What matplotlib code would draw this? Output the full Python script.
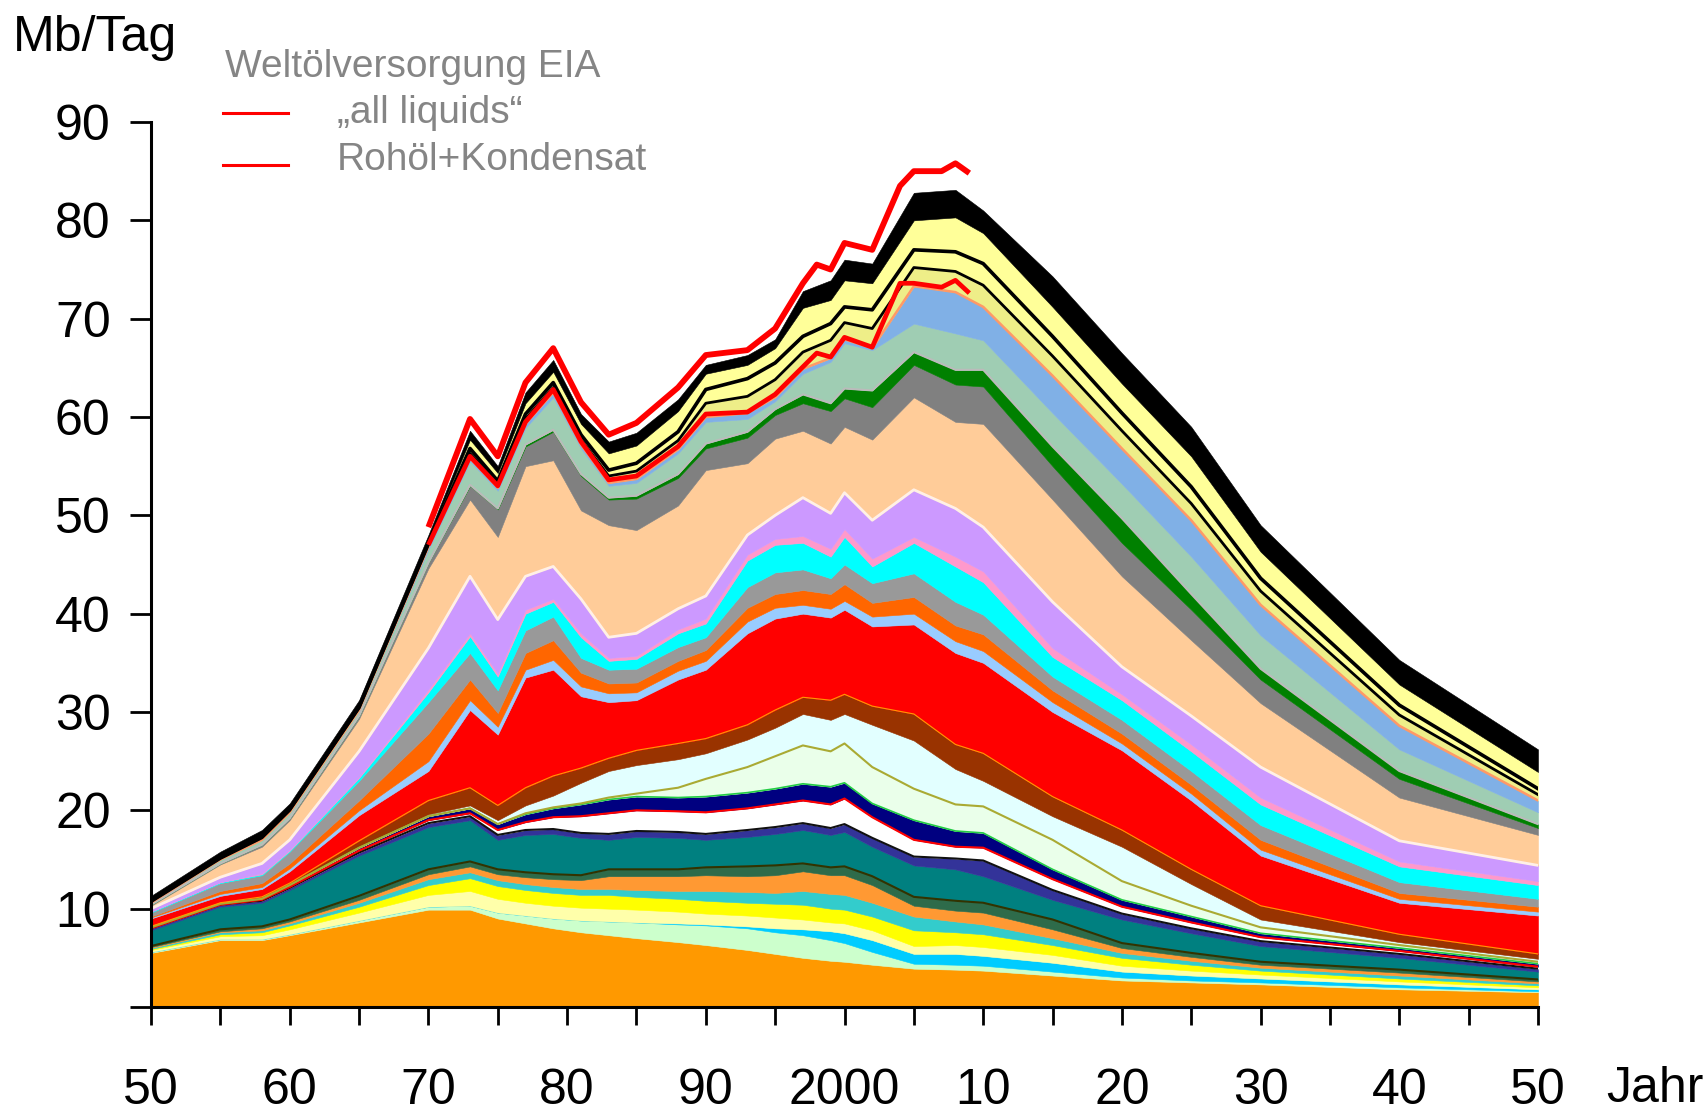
import numpy as np
import matplotlib
matplotlib.use('Agg')
import matplotlib.pyplot as plt
from matplotlib.lines import Line2D

plt.rcParams['font.family'] = ['Liberation Sans', 'DejaVu Sans']

# Stützjahre der Schichten
years = [1950, 1955, 1958, 1960, 1965, 1970, 1973, 1975, 1977, 1979, 1981, 1983, 1985, 1988, 1990,
         1993, 1995, 1997, 1999, 2000, 2002, 2005, 2008, 2010, 2015, 2020, 2025, 2030, 2040, 2050]

# Oberkante jeder Schicht in Mb/Tag (kumuliert), von unten nach oben
lvl_orange = [5.5, 6.8, 6.8, 7.3, 8.6, 9.9, 9.9, 9.0, 8.5, 8.0, 7.6, 7.3, 7.0, 6.6, 6.3,
              5.8, 5.4, 5.0, 4.7, 4.6, 4.3, 3.9, 3.8, 3.7, 3.2, 2.7, 2.5, 2.3, 1.8, 1.5]
lvl_lgreen = [5.6, 6.9, 6.9, 7.4, 8.8, 10.2, 10.3, 9.6, 9.3, 9.0, 8.8, 8.7, 8.6, 8.4, 8.3,
              8.0, 7.6, 7.3, 6.8, 6.5, 5.6, 4.4, 4.3, 4.2, 3.6, 3.0, 2.7, 2.5, 2.0, 1.6]
lvl_sky = [5.6, 6.9, 6.9, 7.4, 8.8, 10.2, 10.3, 9.6, 9.3, 9.0, 8.8, 8.7, 8.6, 8.5, 8.4,
           8.2, 8.0, 7.9, 7.7, 7.5, 6.8, 5.4, 5.4, 5.2, 4.5, 3.6, 3.2, 2.9, 2.3, 1.8]
lvl_ltyel = [5.8, 7.2, 7.3, 7.9, 9.6, 11.4, 11.8, 11.0, 10.6, 10.3, 10.1, 10.0, 9.9, 9.7, 9.5,
             9.3, 9.1, 8.9, 8.6, 8.5, 7.8, 6.2, 6.3, 6.1, 5.3, 4.2, 3.7, 3.3, 2.6, 2.0]
lvl_yellow = [5.9, 7.4, 7.6, 8.3, 10.2, 12.4, 13.1, 12.3, 11.9, 11.6, 11.4, 11.4, 11.2, 11.0, 10.8,
              10.6, 10.5, 10.4, 10.0, 9.9, 9.2, 7.8, 7.6, 7.4, 6.3, 5.0, 4.3, 3.7, 2.9, 2.2]
lvl_turq = [6.0, 7.6, 7.8, 8.5, 10.6, 13.0, 13.7, 12.9, 12.5, 12.2, 12.0, 12.0, 11.9, 11.8, 11.8,
            11.7, 11.6, 11.8, 11.5, 11.4, 10.6, 9.2, 8.7, 8.4, 7.0, 5.5, 4.7, 4.0, 3.2, 2.4]
lvl_orng = [6.1, 7.7, 8.0, 8.7, 10.9, 13.5, 14.3, 13.5, 13.2, 13.0, 12.9, 13.3, 13.3, 13.3, 13.4,
            13.3, 13.4, 13.8, 13.4, 13.4, 12.4, 10.3, 9.8, 9.6, 7.9, 6.0, 5.1, 4.3, 3.5, 2.6]
lvl_olive = [6.2, 7.9, 8.2, 8.9, 11.3, 14.0, 14.8, 14.0, 13.7, 13.5, 13.4, 14.0, 14.0, 14.0, 14.2,
             14.3, 14.4, 14.6, 14.2, 14.3, 13.3, 11.2, 10.8, 10.6, 8.9, 6.5, 5.5, 4.6, 3.8, 2.8]
lvl_teal = [7.8, 10.2, 10.6, 11.9, 15.4, 18.3, 19.0, 17.0, 17.5, 17.6, 17.2, 17.0, 17.3, 17.2, 17.0,
            17.3, 17.6, 18.0, 17.5, 17.8, 16.3, 14.4, 14.0, 13.3, 10.9, 8.9, 7.5, 6.2, 5.0, 3.6]
lvl_slate = [8.0, 10.4, 10.8, 12.1, 15.7, 18.7, 19.4, 17.5, 18.0, 18.1, 17.7, 17.6, 17.9, 17.8, 17.6,
             18.0, 18.3, 18.7, 18.2, 18.6, 17.2, 15.3, 15.1, 14.9, 11.9, 9.5, 8.0, 6.7, 5.4, 3.9]
lvl_white = [8.0, 10.4, 10.9, 12.2, 15.9, 19.0, 19.7, 18.0, 18.8, 19.3, 19.4, 19.7, 20.0, 19.9, 19.8,
             20.2, 20.6, 21.0, 20.6, 21.2, 19.3, 17.0, 16.3, 16.2, 13.0, 10.2, 8.6, 7.1, 5.7, 4.1]
lvl_navy = [8.1, 10.5, 11.0, 12.4, 16.2, 19.4, 20.2, 18.6, 19.6, 20.2, 20.6, 21.1, 21.4, 21.3, 21.4,
            21.8, 22.2, 22.7, 22.4, 22.8, 20.7, 19.0, 17.9, 17.7, 14.0, 10.9, 9.2, 7.5, 6.0, 4.4]
lvl_honeydew = [8.1, 10.5, 11.0, 12.4, 16.2, 19.4, 20.2, 18.6, 19.7, 20.3, 20.7, 21.3, 21.7, 22.3, 23.2,
                24.4, 25.5, 26.6, 26.0, 26.8, 24.4, 22.2, 20.6, 20.4, 17.0, 12.8, 10.3, 8.1, 6.3, 4.6]
lvl_lcyan = [8.1, 10.5, 11.0, 12.4, 16.3, 19.6, 20.5, 19.0, 20.5, 21.5, 22.8, 24.0, 24.6, 25.2, 25.8,
             27.2, 28.4, 29.8, 29.2, 29.8, 28.7, 27.1, 24.2, 23.0, 19.4, 16.3, 12.5, 8.9, 6.6, 4.9]
lvl_brown = [8.2, 10.6, 11.2, 12.6, 16.9, 21.0, 22.3, 20.5, 22.3, 23.5, 24.3, 25.3, 26.1, 26.8, 27.3,
             28.7, 30.2, 31.5, 31.2, 31.8, 30.6, 29.8, 26.7, 25.8, 21.4, 18.0, 14.0, 10.3, 7.4, 5.4]
lvl_red = [9.0, 11.3, 12.0, 13.8, 19.5, 24.0, 30.2, 27.7, 33.5, 34.3, 31.6, 31.0, 31.2, 33.3, 34.3,
           38.0, 39.5, 40.0, 39.6, 40.4, 38.7, 38.9, 36.0, 35.0, 30.0, 26.1, 21.0, 15.4, 10.6, 9.3]
lvl_lblue = [9.1, 11.5, 12.2, 14.1, 20.0, 25.0, 31.2, 28.5, 34.3, 35.3, 32.6, 31.9, 32.0, 34.2, 35.2,
             39.2, 40.6, 40.9, 40.5, 41.3, 39.7, 40.0, 37.2, 36.2, 31.0, 26.8, 21.7, 16.0, 11.0, 9.7]
lvl_orred = [9.2, 11.8, 12.6, 14.6, 21.0, 27.8, 33.3, 29.9, 36.0, 37.3, 34.0, 32.9, 33.0, 35.2, 36.3,
             40.6, 42.0, 42.4, 42.0, 43.0, 41.1, 41.7, 38.8, 37.9, 32.2, 27.8, 22.6, 17.0, 11.6, 10.2]
lvl_gray = [9.6, 12.6, 13.4, 15.8, 23.0, 31.0, 36.0, 32.2, 38.3, 39.7, 35.5, 34.3, 34.4, 36.6, 37.6,
            42.7, 44.2, 44.5, 43.6, 45.0, 43.1, 44.1, 41.2, 39.9, 33.6, 29.2, 24.0, 18.5, 12.7, 11.0]
lvl_cyan = [9.7, 12.7, 13.5, 15.9, 23.3, 32.0, 37.7, 33.6, 40.0, 41.2, 37.6, 35.2, 35.4, 38.0, 39.0,
            45.4, 47.0, 47.2, 45.8, 47.8, 44.8, 47.2, 44.8, 43.2, 35.6, 31.2, 26.0, 20.6, 14.3, 12.4]
lvl_pink = [9.7, 12.7, 13.6, 16.0, 23.4, 32.3, 38.0, 33.9, 40.4, 41.5, 38.0, 35.5, 35.7, 38.4, 39.5,
            46.0, 47.6, 47.9, 46.6, 48.6, 45.6, 47.8, 45.8, 44.3, 36.5, 31.8, 26.7, 21.3, 14.8, 12.8]
lvl_purple = [10.0, 13.2, 14.6, 17.0, 26.0, 36.5, 43.8, 39.4, 43.8, 44.8, 41.5, 37.6, 38.0, 40.5, 41.8,
              48.0, 50.0, 51.8, 50.2, 52.3, 49.5, 52.6, 50.7, 48.8, 41.2, 34.6, 29.6, 24.4, 16.9, 14.4]
lvl_peach = [10.3, 14.5, 16.3, 19.0, 29.3, 44.6, 51.6, 47.8, 55.0, 55.6, 50.5, 49.0, 48.5, 51.0, 54.6,
             55.3, 57.8, 58.6, 57.3, 59.0, 57.7, 62.0, 59.5, 59.3, 51.6, 43.8, 37.3, 30.9, 21.3, 17.5]
lvl_gray2 = [10.4, 14.6, 16.5, 19.2, 29.6, 45.2, 53.0, 50.6, 57.0, 58.5, 54.0, 51.6, 51.7, 53.8, 56.8,
             57.9, 60.2, 61.4, 60.6, 61.9, 61.0, 65.3, 63.3, 63.1, 55.0, 47.2, 40.4, 33.3, 23.2, 18.2]
lvl_green = [10.4, 14.6, 16.5, 19.2, 29.6, 45.2, 53.1, 50.7, 57.2, 58.7, 54.2, 51.8, 52.0, 54.2, 57.3,
             58.5, 60.8, 62.3, 61.4, 62.9, 62.7, 66.6, 64.8, 64.8, 57.0, 49.7, 42.0, 34.4, 24.0, 18.6]
lvl_mint = [10.6, 15.0, 17.0, 19.8, 30.2, 46.5, 55.5, 52.5, 58.9, 62.0, 56.8, 53.0, 53.3, 56.3, 59.5,
            59.8, 61.6, 64.4, 65.6, 67.5, 66.8, 69.5, 68.5, 67.8, 60.4, 53.2, 45.8, 37.8, 26.2, 19.8]
lvl_steel = [10.6, 15.0, 17.0, 19.8, 30.2, 46.8, 55.8, 52.8, 59.3, 62.5, 57.2, 53.3, 53.7, 56.7, 60.0,
             60.4, 62.0, 64.9, 66.0, 67.9, 67.0, 73.3, 72.7, 71.2, 64.2, 56.8, 49.5, 40.9, 28.6, 21.0]
lvl_midline = [10.7, 15.1, 17.2, 20.0, 30.4, 47.0, 56.3, 53.2, 59.8, 63.0, 57.7, 54.0, 54.5, 57.6, 61.4,
               62.1, 63.8, 66.6, 67.8, 69.6, 69.0, 75.2, 74.8, 73.4, 66.2, 58.6, 51.2, 42.3, 29.7, 21.6]
lvl_lines = [10.8, 15.2, 17.3, 20.1, 30.5, 47.2, 56.8, 53.5, 60.3, 63.5, 58.2, 54.6, 55.3, 58.5, 62.8,
             63.9, 65.5, 68.2, 69.5, 71.2, 70.9, 77.0, 76.8, 75.6, 68.2, 60.4, 52.9, 43.6, 30.7, 22.2]
lvl_yellow2 = [10.9, 15.4, 17.5, 20.3, 30.7, 47.6, 57.7, 54.3, 61.4, 64.6, 59.3, 56.3, 57.1, 60.6, 64.4,
               65.3, 67.0, 71.1, 71.9, 73.9, 73.6, 80.0, 80.3, 78.7, 71.2, 63.4, 56.0, 46.3, 32.8, 23.9]
lvl_top = [11.3, 15.8, 18.0, 20.7, 31.2, 48.0, 58.6, 55.0, 62.5, 65.8, 60.3, 57.5, 58.4, 61.8, 65.3,
           66.3, 67.9, 72.8, 73.9, 76.0, 75.6, 82.8, 83.1, 81.0, 74.3, 66.5, 59.0, 49.0, 35.3, 26.2]

# EIA Weltölversorgung (Linien)
eia_years = [1970, 1973, 1975, 1977, 1979, 1981, 1983, 1985, 1988, 1990, 1993, 1995, 1997, 1998,
             1999, 2000, 2002, 2004, 2005, 2007, 2008, 2009]
all_liquids = [48.8, 59.8, 56.0, 63.5, 67.0, 61.5, 58.2, 59.4, 63.0, 66.3, 66.8, 69.0, 73.6, 75.5,
               75.0, 77.7, 77.0, 83.5, 85.0, 85.0, 85.8, 84.8]
crude_cond = [47.0, 56.0, 53.0, 59.5, 62.8, 57.5, 53.6, 54.0, 57.0, 60.3, 60.5, 62.3, 65.1, 66.5,
              66.1, 68.1, 67.1, 73.6, 73.6, 73.2, 73.9, 72.6]

x_ticks = list(range(1950, 2051, 5))
x_labels = ['50', '', '60', '', '70', '', '80', '', '90', '', '2000', '', '10', '', '20', '',
            '30', '', '40', '', '50']
y_ticks = list(range(0, 91, 10))
y_labels = [''] + [str(v) for v in range(10, 91, 10)]

layers = [
    (lvl_orange, '#ff9900'), (lvl_lgreen, '#ccffcc'), (lvl_sky, '#00ccff'),
    (lvl_ltyel, '#ffffaa'), (lvl_yellow, '#ffff00'), (lvl_turq, '#33cccc'),
    (lvl_orng, '#ff9933'), (lvl_olive, '#2e6b4a'), (lvl_teal, '#008080'),
    (lvl_slate, '#333399'), (lvl_white, '#ffffff'), (lvl_navy, '#000080'),
    (lvl_honeydew, '#eaffea'), (lvl_lcyan, '#e2ffff'), (lvl_brown, '#993300'),
    (lvl_red, '#ff0000'), (lvl_lblue, '#99ccff'), (lvl_orred, '#ff6600'),
    (lvl_gray, '#999999'), (lvl_cyan, '#00ffff'), (lvl_pink, '#ff99cc'),
    (lvl_purple, '#cc99ff'), (lvl_peach, '#ffcc99'), (lvl_gray2, '#808080'),
    (lvl_green, '#008000'), (lvl_mint, '#9fcdb3'), (lvl_steel, '#80b0e6'),
    (lvl_midline, '#eeee88'), (lvl_lines, '#ffff99'), (lvl_yellow2, '#ffff99'),
    (lvl_top, '#000000'),
]

fig = plt.figure(figsize=(17.07, 11.14), dpi=100)
ax = fig.add_axes([151 / 1707, 1 - 1007 / 1114, (1538 - 151) / 1707, (1007 - 122) / 1114])

lower = np.zeros(len(years))
for lvl, col in layers:
    upper = np.array(lvl)
    ax.fill_between(years, lower, upper, facecolor=col, edgecolor=col, linewidth=0.4)
    lower = upper

# feine Trennlinien zwischen einzelnen Schichten
ax.plot(years, lvl_olive, color='#333300', lw=1.5)
ax.plot(years, lvl_slate, color='#111111', lw=1.5)
ax.plot(years, lvl_white, color='#ff0000', lw=1.5)
ax.plot(years, lvl_navy, color='#22cc44', lw=1.2)
ax.plot(years, lvl_honeydew, color='#aaaa33', lw=1.5)
ax.plot(years, lvl_brown, color='#ff9900', lw=0.8)
ax.plot(years, lvl_purple, color='#fff0e6', lw=2)
ax.plot(years, lvl_green, color='#bbbbbb', lw=1.5)
ax.plot(years, lvl_steel, color='#ff9966', lw=1.8)
ax.plot(years, lvl_midline, color='#000000', lw=2.0)
ax.plot(years, lvl_lines, color='#000000', lw=2.6)

ax.plot(eia_years, all_liquids, color='#ff0000', lw=4.2, solid_capstyle='butt')
ax.plot(eia_years, crude_cond, color='#ff0000', lw=3.4, solid_capstyle='butt')

ax.set_xlim(1950, 2050)
ax.set_ylim(0, 90)
for side in ['top', 'right']:
    ax.spines[side].set_visible(False)
for side in ['left', 'bottom']:
    ax.spines[side].set_linewidth(2.2)
    ax.spines[side].set_zorder(5)

ax.set_xticks(x_ticks)
ax.set_xticklabels(x_labels)
ax.set_yticks(y_ticks)
ax.set_yticklabels(y_labels)
ax.tick_params(axis='x', length=13, width=2, direction='out', pad=31, labelsize=36)
ax.tick_params(axis='y', length=15, width=2, direction='out', pad=14, labelsize=36)

fig.text(13 / 1707, 1 - 38 / 1114, 'Mb/Tag', fontsize=36, va='center', ha='left')
fig.text(1606 / 1707, 1 - 1089 / 1114, 'Jahr', fontsize=36, va='center', ha='left')

# Legende
gray_txt = '#858585'
fig.text(225 / 1707, 1 - 67 / 1114, 'Weltölversorgung EIA', fontsize=28, color=gray_txt,
         va='center', ha='left')
fig.text(337 / 1707, 1 - 113 / 1114, '\u201eall liquids\u201c', fontsize=28, color=gray_txt,
         va='center', ha='left')
fig.text(337 / 1707, 1 - 160 / 1114, 'Rohöl+Kondensat', fontsize=28, color=gray_txt,
         va='center', ha='left')
for ly in [113, 165]:
    fig.add_artist(Line2D([223 / 1707, 288 / 1707], [1 - ly / 1114, 1 - ly / 1114],
                          color='#ff0000', lw=2.2, transform=fig.transFigure))

fig.savefig('out.png', dpi=100)
